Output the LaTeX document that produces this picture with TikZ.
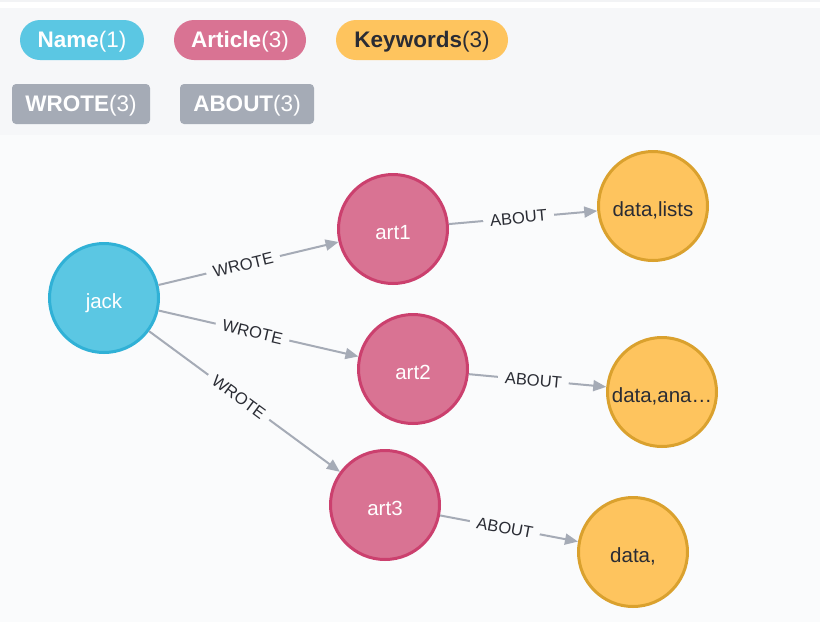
\documentclass[tikz,border=0pt]{standalone}
\usepackage{fontspec}
\setmainfont{Liberation Sans}
\usetikzlibrary{arrows.meta}
\definecolor{bgtop}{HTML}{F2F3F5}
\definecolor{bglegend}{HTML}{F6F7F9}
\definecolor{bggraph}{HTML}{FAFBFC}
\definecolor{namefill}{HTML}{5BC7E3}
\definecolor{namedraw}{HTML}{30B1D6}
\definecolor{artfill}{HTML}{D97393}
\definecolor{artdraw}{HTML}{CB406E}
\definecolor{kwfill}{HTML}{FEC45E}
\definecolor{kwdraw}{HTML}{DAA12E}
\definecolor{relgray}{HTML}{A5ABB6}
\definecolor{darktext}{HTML}{2A2C34}
\begin{document}
\begin{tikzpicture}[x=1pt,y=-1pt,
  pill/.style={rectangle, rounded corners=20pt, minimum height=40pt, inner sep=0pt, text height=15.4pt, text depth=0pt, text=white, font=\fontsize{22.5}{27}\selectfont},
  relpill/.style={rectangle, rounded corners=4pt, minimum height=40pt, inner sep=0pt, text height=15.4pt, text depth=0pt, fill=relgray, text=white, font=\fontsize{22.5}{27}\selectfont},
  gnode/.style={circle, minimum size=109pt, line width=3pt, inner sep=0pt, text height=21pt, text depth=0pt, font=\fontsize{20.5}{25}\selectfont},
  namenode/.style={gnode, fill=namefill, draw=namedraw, text=white},
  artnode/.style={gnode, fill=artfill, draw=artdraw, text=white},
  kwnode/.style={gnode, fill=kwfill, draw=kwdraw, text=darktext},
  rel/.style={draw=relgray, line width=2pt, -{Triangle[length=13pt,width=11pt]}},
  lbl/.style={sloped, fill=bggraph, inner xsep=7pt, inner ysep=1pt, pos=0.47, text=darktext, font=\fontsize{16.5}{19}\selectfont}
]
\fill[bgtop] (0,0) rectangle (820,2);
\fill[white] (0,2) rectangle (820,8);
\fill[bglegend] (0,8) rectangle (820,135);
\fill[bggraph] (0,135) rectangle (820,622);
\useasboundingbox (0,0) rectangle (820,622);

% legend
\node[pill, fill=namefill, minimum width=124pt] (lname) at (82,40) {\textbf{Name}(1)};
\node[pill, fill=artfill, minimum width=132pt] (lart) at (240,40) {\textbf{Article}(3)};
\node[pill, fill=kwfill, text=darktext, minimum width=172pt] (lkw) at (422,40) {\textbf{Keywords}(3)};
\node[relpill, minimum width=138pt] (lwrote) at (81,104) {\textbf{WROTE}(3)};
\node[relpill, minimum width=134pt] (labout) at (247,104) {\textbf{ABOUT}(3)};

% graph nodes
\node[namenode] (jack) at (104,298) {jack};
\node[artnode] (art1) at (393,229) {art1};
\node[artnode] (art2) at (413,369) {art2};
\node[artnode] (art3) at (385,505) {art3};
\node[kwnode] (kw1) at (653,206) {data,lists};
\node[kwnode] (kw2) at (662,392) {data,ana…};
\node[kwnode] (kw3) at (633,552) {data,};

% relationships
\draw[rel] (jack) -- node[lbl] {WROTE} (art1);
\draw[rel] (jack) -- node[lbl] {WROTE} (art2);
\draw[rel] (jack) -- node[lbl] {WROTE} (art3);
\draw[rel] (art1) -- node[lbl] {ABOUT} (kw1);
\draw[rel] (art2) -- node[lbl] {ABOUT} (kw2);
\draw[rel] (art3) -- node[lbl] {ABOUT} (kw3);
\end{tikzpicture}
\end{document}
